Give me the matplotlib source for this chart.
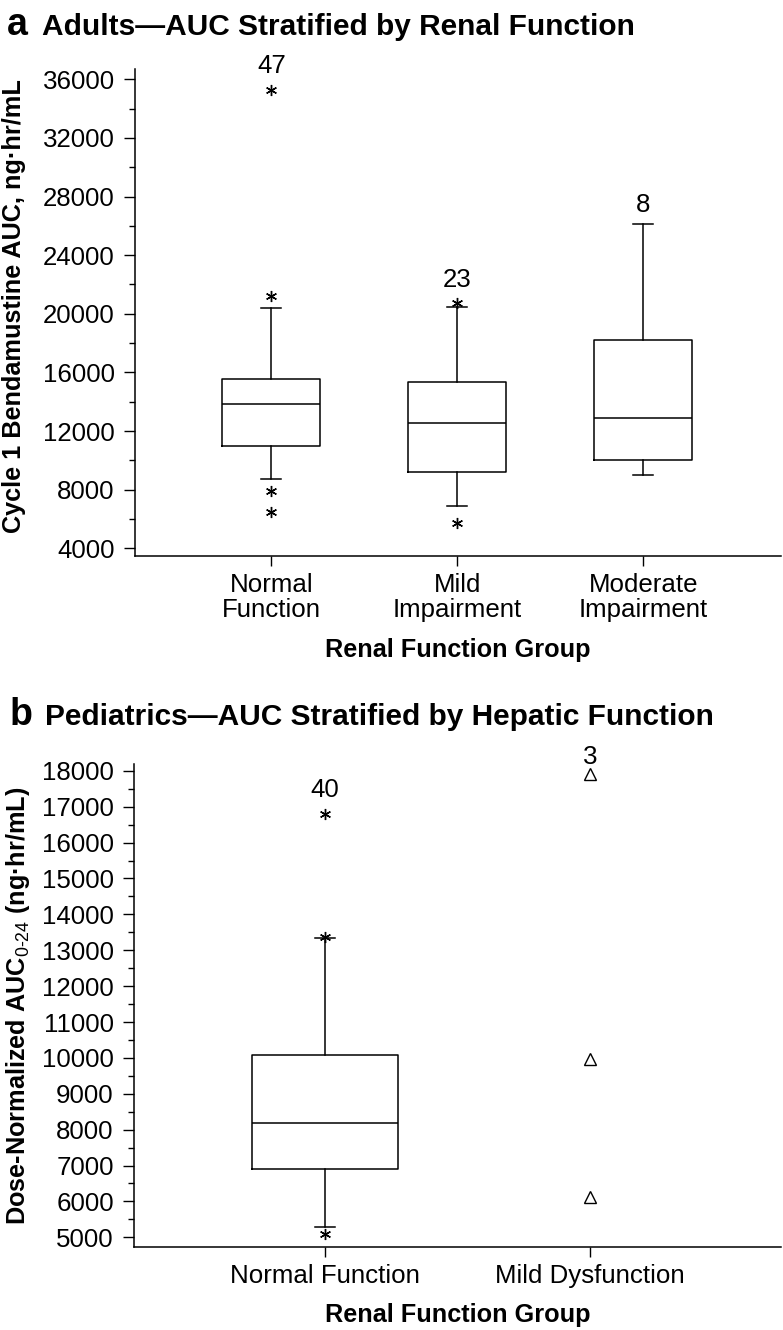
import matplotlib
matplotlib.use("Agg")
import matplotlib.pyplot as plt
from matplotlib.ticker import MultipleLocator

plt.rcParams['font.family'] = ['Liberation Sans', 'DejaVu Sans']
plt.rcParams['mathtext.fontset'] = 'custom'
plt.rcParams['mathtext.rm'] = 'Liberation Sans'
plt.rcParams['mathtext.bf'] = 'Liberation Sans:bold'

# ---------------- data: panel a (adults, renal function) ----------------
renal_groups = ["Normal\nFunction", "Mild\nImpairment", "Moderate\nImpairment"]
renal_q1 = [10950, 9190, 10030]
renal_med = [13830, 12570, 12920]
renal_q3 = [15540, 15330, 18220]
renal_whislo = [8750, 6910, 9000]
renal_whishi = [20380, 20490, 26140]
renal_fliers = [[35280, 21240, 7910, 6460], [20720, 5750], []]
renal_n = ["47", "23", "8"]

# ---------------- data: panel b (pediatrics, hepatic function) ----------------
hep_groups = ["Normal Function", "Mild Dysfunction"]
hep_q1 = [6900]
hep_med = [8190]
hep_q3 = [10070]
hep_whislo = [5290]
hep_whishi = [13350]
hep_fliers = [[16800, 13380, 5100]]
hep_mild_points = [17900, 9960, 6120]
hep_n = ["40", "3"]

W, H = 783, 1330
fig = plt.figure(figsize=(W / 100, H / 100), dpi=100)

TICK_FS = 18.6
LABEL_FS = 18.2
TITLE_FS = 21.5
LETTER_FS = 27

star = (6, 2, 0)
flier_style = dict(marker=star, markersize=8, markeredgewidth=1.0,
                   markeredgecolor='black', linestyle='none')
line_kw = dict(color='black', linewidth=1.1)


def style_axes(ax):
    for s in ('top', 'right'):
        ax.spines[s].set_visible(False)
    for s in ('left', 'bottom'):
        ax.spines[s].set_linewidth(1.1)
    ax.tick_params(axis='y', which='major', direction='out', length=8, width=1.0,
                   labelsize=TICK_FS, pad=6.5)
    ax.tick_params(axis='y', which='minor', direction='out', length=4.5, width=1.0)
    ax.tick_params(axis='x', which='major', direction='out', length=7, width=1.0,
                   labelsize=TICK_FS, pad=5)


# ---------------- panel a ----------------
ax1 = fig.add_axes([135 / W, 1 - 556 / H, 646 / W, (556 - 69) / H])
stats_a = []
for i in range(len(renal_groups)):
    stats_a.append(dict(q1=renal_q1[i], med=renal_med[i], q3=renal_q3[i],
                        whislo=renal_whislo[i], whishi=renal_whishi[i],
                        fliers=renal_fliers[i]))
pos_a = list(range(len(renal_groups)))
ax1.bxp(stats_a, positions=pos_a, widths=0.527, capwidths=[0.1075] * 3,
        boxprops=line_kw, medianprops=line_kw, whiskerprops=line_kw,
        capprops=line_kw, flierprops=flier_style, manage_ticks=False)
ax1.set_xlim(-0.733, 2.74)
ax1.set_ylim(3475, 36700)
ax1.yaxis.set_major_locator(MultipleLocator(4000))
ax1.yaxis.set_minor_locator(MultipleLocator(2000))
ax1.set_xticks(pos_a)
ax1.set_xticklabels(renal_groups, linespacing=1.05)
style_axes(ax1)
ax1.set_ylabel("Cycle 1 Bendamustine AUC, ng·hr/mL", fontsize=LABEL_FS,
               fontweight='bold')
ax1.yaxis.label.set_va('center')
ax1.yaxis.set_label_coords(-0.187, 0.514)
ax1.set_xlabel("Renal Function Group", fontsize=LABEL_FS, fontweight='bold')
ax1.xaxis.label.set_va('center')
ax1.xaxis.set_label_coords(0.5, (556 - 650) / 487)

for i, lab in enumerate(renal_n):
    if renal_fliers[i]:
        top = max(renal_fliers[i])
        off = 17
    else:
        top = renal_whishi[i]
        off = 13.5
    ax1.annotate(lab, (pos_a[i], top), xytext=(0, off), textcoords='offset points',
                 ha='center', va='center', fontsize=TICK_FS, annotation_clip=False)

fig.text(7 / W, 1 - 35 / H, "a", fontsize=LETTER_FS, fontweight='bold', va='baseline')
fig.text(42 / W, 1 - 35 / H, "Adults\u2014AUC Stratified by Renal Function",
         fontsize=TITLE_FS, fontweight='bold', va='baseline')

# ---------------- panel b ----------------
ax2 = fig.add_axes([134 / W, 1 - 1247 / H, 647 / W, (1247 - 764) / H])
stats_b = []
for i in range(len(hep_q1)):
    stats_b.append(dict(q1=hep_q1[i], med=hep_med[i], q3=hep_q3[i],
                        whislo=hep_whislo[i], whishi=hep_whishi[i],
                        fliers=hep_fliers[i]))
pos_b = list(range(len(hep_groups)))
ax2.bxp(stats_b, positions=[pos_b[0]], widths=0.554, capwidths=[0.0755],
        boxprops=line_kw, medianprops=line_kw, whiskerprops=line_kw,
        capprops=line_kw, flierprops=flier_style, manage_ticks=False)
ax2.plot([pos_b[1]] * len(hep_mild_points), hep_mild_points, linestyle='none',
         marker='^', markersize=9, markerfacecolor='none', markeredgecolor='black',
         markeredgewidth=1.0)
ax2.set_xlim(-0.721, 1.721)
ax2.set_ylim(4730, 18190)
ax2.yaxis.set_major_locator(MultipleLocator(1000))
ax2.yaxis.set_minor_locator(MultipleLocator(500))
ax2.set_xticks(pos_b)
ax2.set_xticklabels(hep_groups)
style_axes(ax2)
ax2.set_ylabel(r"Dose-Normalized AUC$_{\text{0-24}}$ (ng·hr/mL)",
               fontsize=LABEL_FS, fontweight='bold')
ax2.yaxis.label.set_va('center')
ax2.yaxis.set_label_coords(-0.179, 0.5)
ax2.set_xlabel("Renal Function Group", fontsize=LABEL_FS, fontweight='bold')
ax2.xaxis.label.set_va('center')
ax2.xaxis.set_label_coords(0.5, (1247 - 1315) / 483)

ax2.annotate(hep_n[0], (pos_b[0], max(hep_fliers[0])), xytext=(0, 17),
             textcoords='offset points', ha='center', va='center',
             fontsize=TICK_FS, annotation_clip=False)
ax2.annotate(hep_n[1], (pos_b[1], max(hep_mild_points)), xytext=(0, 12.5),
             textcoords='offset points', ha='center', va='center',
             fontsize=TICK_FS, annotation_clip=False)

fig.text(10 / W, 1 - 725 / H, "b", fontsize=LETTER_FS, fontweight='bold', va='baseline')
fig.text(45 / W, 1 - 725 / H, "Pediatrics\u2014AUC Stratified by Hepatic Function",
         fontsize=TITLE_FS, fontweight='bold', va='baseline')

fig.savefig("out.png", dpi=100)
